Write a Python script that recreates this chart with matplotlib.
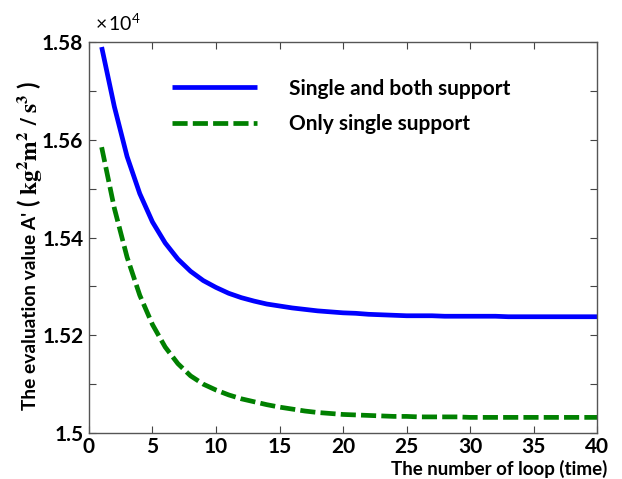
import matplotlib
matplotlib.use("Agg")
import matplotlib.pyplot as plt
from matplotlib.ticker import MultipleLocator, FuncFormatter

plt.rcParams['font.family'] = ['Lato', 'DejaVu Sans']
plt.rcParams['mathtext.fontset'] = 'stix'

loops = list(range(1, 41))
single_and_both = [1.5790, 1.5668, 1.5566, 1.5490, 1.5432, 1.5389, 1.5356, 1.5331, 1.5312, 1.5298,
                   1.5286, 1.5277, 1.5270, 1.5264, 1.5260, 1.5256, 1.5253, 1.5250, 1.5248, 1.5246,
                   1.5245, 1.5243, 1.5242, 1.5241, 1.5240, 1.5240, 1.5240, 1.5239, 1.5239, 1.5239,
                   1.5239, 1.5239, 1.5238, 1.5238, 1.5238, 1.5238, 1.5238, 1.5238, 1.5238, 1.5238]
only_single = [1.5585, 1.5460, 1.5360, 1.5282, 1.5222, 1.5176, 1.5142, 1.5117, 1.5100, 1.5088,
               1.5078, 1.5070, 1.5064, 1.5058, 1.5053, 1.5049, 1.5045, 1.5042, 1.5040, 1.5038,
               1.5037, 1.5036, 1.5035, 1.5034, 1.5034, 1.5033, 1.5033, 1.5033, 1.5033, 1.5032,
               1.5032, 1.5032, 1.5032, 1.5032, 1.5032, 1.5032, 1.5032, 1.5032, 1.5032, 1.5032]
series_labels = ["Single and both support", "Only single support"]

fig = plt.figure(figsize=(6.22, 4.79), dpi=100)
ax = fig.add_axes([0.143, 0.096, 0.817, 0.816])

ax.plot(loops, single_and_both, color='#0000ff', lw=3.4, solid_capstyle='butt',
        solid_joinstyle='round', label=series_labels[0])
ax.plot(loops, only_single, color='#008000', lw=3.4, ls=(0, (3.2, 1.1)), dash_capstyle='butt',
        label=series_labels[1])

ax.set_xlim(0, 40)
ax.set_ylim(1.5, 1.58)
ax.xaxis.set_major_locator(MultipleLocator(5))
ax.yaxis.set_major_locator(MultipleLocator(0.02))
ax.yaxis.set_minor_locator(MultipleLocator(0.01))
ax.yaxis.set_major_formatter(FuncFormatter(lambda v, p: '%g' % round(v, 4)))
ax.tick_params(which='both', direction='in', top=True, right=True, length=5, width=0.8, color='#444444')
ax.tick_params(which='major', labelsize=15)
ax.tick_params(axis='x', which='major', pad=3)
ax.tick_params(axis='y', which='major', pad=4)
for lbl in ax.get_xticklabels() + ax.get_yticklabels():
    lbl.set_fontweight('bold')
for s in ax.spines.values():
    s.set_color('#555555')
    s.set_linewidth(1.0)

ax.text(0.012, 1.03, r'$\mathregular{\times\,10^4}$', transform=ax.transAxes, fontsize=14,
        ha='left', va='baseline')

ax.set_xlabel("The number of loop (time)", fontsize=13.5, fontweight='bold')
ax.xaxis.set_label_coords(1.02, -0.068)
ax.xaxis.label.set_ha('right')

# y label: plain part plus larger unit part, sharing one baseline
base_x = 36.5 / 622
fig.text(base_x, (479 - 410) / 479, "The evaluation value A'", rotation=90, fontsize=13.8,
         fontweight='bold', ha='left', va='baseline', rotation_mode='anchor')
fig.text(base_x, (479 - 207) / 479, r"( $\mathbf{kg^2m^2\ /\ s^3}$ )", rotation=90, fontsize=17,
         fontweight='bold', ha='left', va='baseline', rotation_mode='anchor')

leg = ax.legend(loc='upper left', bbox_to_anchor=(0.163, 0.907), frameon=False,
                handlelength=4.1, handletextpad=1.55, labelspacing=0.75, borderpad=0,
                borderaxespad=0, prop={'weight': 'bold', 'size': 15})

fig.savefig("out.png", dpi=100)
